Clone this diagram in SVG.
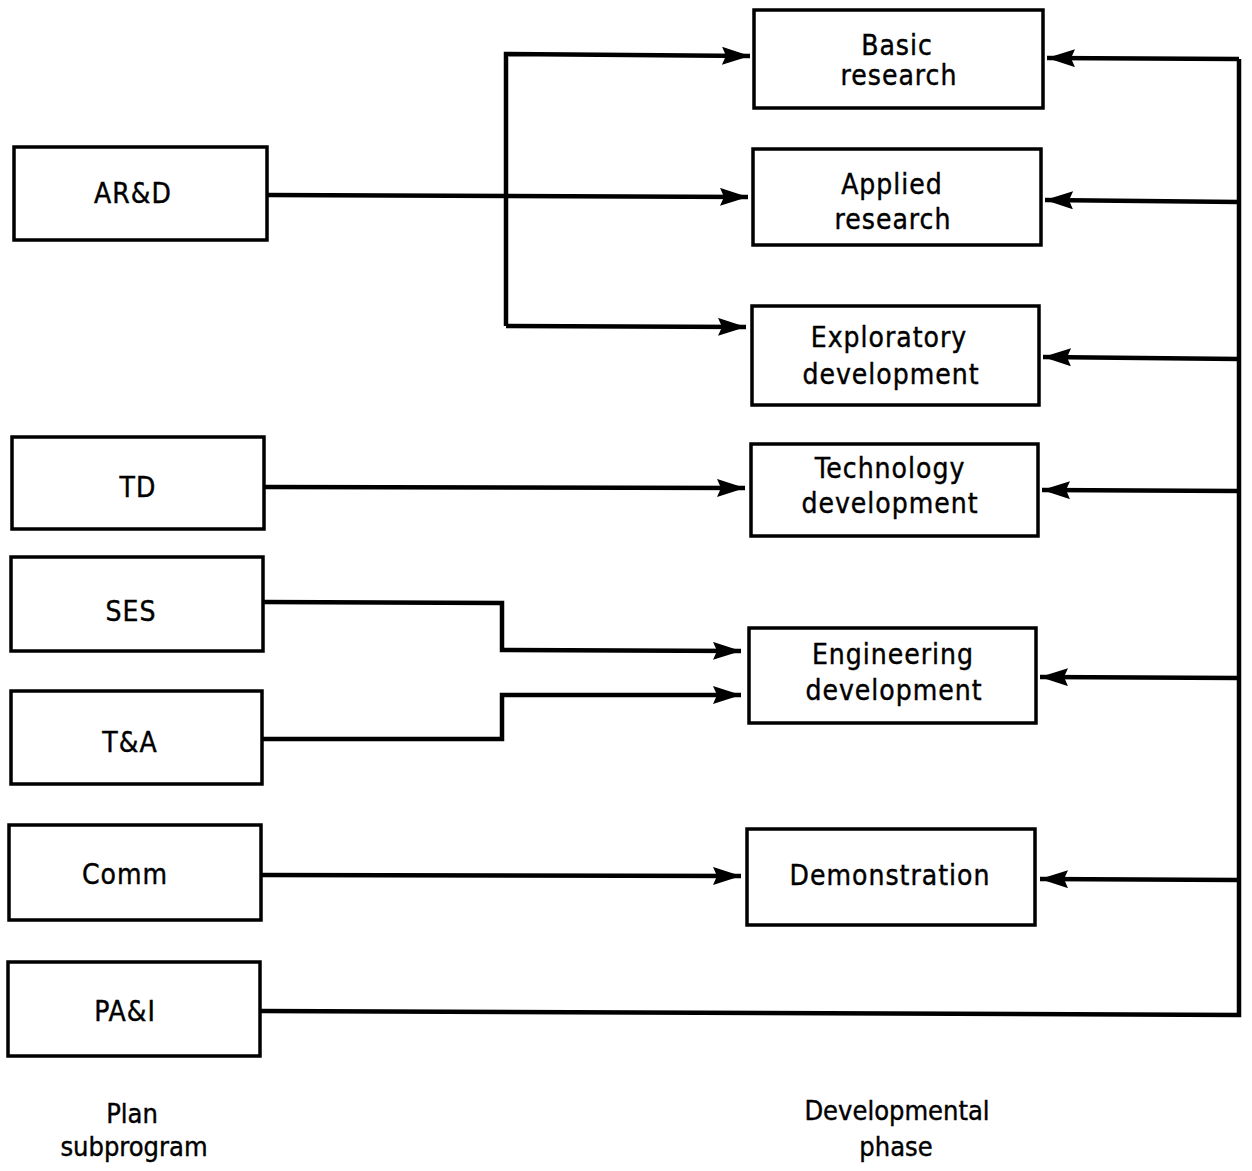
<svg xmlns="http://www.w3.org/2000/svg" width="1252" height="1171" viewBox="0 0 1252 1171">
<style>
.box{fill:#fff;stroke:#000;stroke-width:3.5}
.lbl{font-family:"DejaVu Sans Condensed","Liberation Sans",sans-serif;font-size:28px;fill:#000;stroke:#000;stroke-width:0.4;text-anchor:middle;letter-spacing:1px}
.cap{font-family:"DejaVu Sans Condensed","Liberation Sans",sans-serif;font-size:27px;fill:#000;stroke:#000;stroke-width:0.4;text-anchor:middle}
.wire{fill:none;stroke:#000;stroke-width:4.5;stroke-linejoin:miter}
</style>
<defs>
<marker id="ah" markerUnits="userSpaceOnUse" markerWidth="32" markerHeight="22" refX="28" refY="9" orient="auto">
<path d="M0,0 L28,9 L0,18 L4,9 Z" fill="#000"/>
</marker>
</defs>
<rect width="1252" height="1171" fill="#fff"/>
<g id="connectors">
<path class="wire" d="M267,195 L748,197" marker-end="url(#ah)"/>
<path class="wire" d="M506,326 L506,54 L750,56" marker-end="url(#ah)"/>
<path class="wire" d="M506,326 L746,327" marker-end="url(#ah)"/>
<path class="wire" d="M264,487 L745,488" marker-end="url(#ah)"/>
<path class="wire" d="M263,602 L502,603 L502,650 L741,651" marker-end="url(#ah)"/>
<path class="wire" d="M262,739 L502,739 L502,695 L741,695" marker-end="url(#ah)"/>
<path class="wire" d="M261,875 L741,876" marker-end="url(#ah)"/>
<path class="wire" d="M260,1011 L1239,1015 L1239,59"/>
<path class="wire" d="M1239,59 L1047,58" marker-end="url(#ah)"/>
<path class="wire" d="M1239,202 L1045,200" marker-end="url(#ah)"/>
<path class="wire" d="M1239,359 L1043,357" marker-end="url(#ah)"/>
<path class="wire" d="M1239,491 L1042,490" marker-end="url(#ah)"/>
<path class="wire" d="M1239,678 L1040,677" marker-end="url(#ah)"/>
<path class="wire" d="M1239,880 L1040,879" marker-end="url(#ah)"/>
</g>
<g id="ard"><rect class="box" x="14" y="147" width="253" height="93"/><text class="lbl" x="133" y="203">AR&amp;D</text></g>
<g id="td"><rect class="box" x="12" y="437" width="252" height="92"/><text class="lbl" x="138" y="497">TD</text></g>
<g id="ses"><rect class="box" x="11" y="557" width="252" height="94"/><text class="lbl" x="131" y="621">SES</text></g>
<g id="ta"><rect class="box" x="11" y="691" width="251" height="93"/><text class="lbl" x="130" y="752">T&amp;A</text></g>
<g id="comm"><rect class="box" x="9" y="825" width="252" height="95"/><text class="lbl" x="125" y="884">Comm</text></g>
<g id="pai"><rect class="box" x="8" y="962" width="252" height="94"/><text class="lbl" x="125" y="1021">PA&amp;I</text></g>
<g id="basic"><rect class="box" x="754" y="10" width="289" height="98"/><text class="lbl" x="897" y="55">Basic</text><text class="lbl" x="899" y="85">research</text></g>
<g id="applied"><rect class="box" x="753" y="149" width="288" height="96"/><text class="lbl" x="892" y="194">Applied</text><text class="lbl" x="893" y="229">research</text></g>
<g id="exploratory"><rect class="box" x="752" y="306" width="287" height="99"/><text class="lbl" x="889" y="347">Exploratory</text><text class="lbl" x="891" y="384">development</text></g>
<g id="technology"><rect class="box" x="751" y="444" width="287" height="92"/><text class="lbl" x="890" y="478">Technology</text><text class="lbl" x="890" y="513">development</text></g>
<g id="engineering"><rect class="box" x="749" y="628" width="287" height="95"/><text class="lbl" x="893" y="664">Engineering</text><text class="lbl" x="894" y="700">development</text></g>
<g id="demonstration"><rect class="box" x="747" y="829" width="288" height="96"/><text class="lbl" x="890" y="885">Demonstration</text></g>
<g id="captions">
<text class="cap" x="132" y="1123">Plan</text>
<text class="cap" x="134" y="1156">subprogram</text>
<text class="cap" x="897" y="1120">Developmental</text>
<text class="cap" x="896" y="1156">phase</text>
</g>
</svg>
